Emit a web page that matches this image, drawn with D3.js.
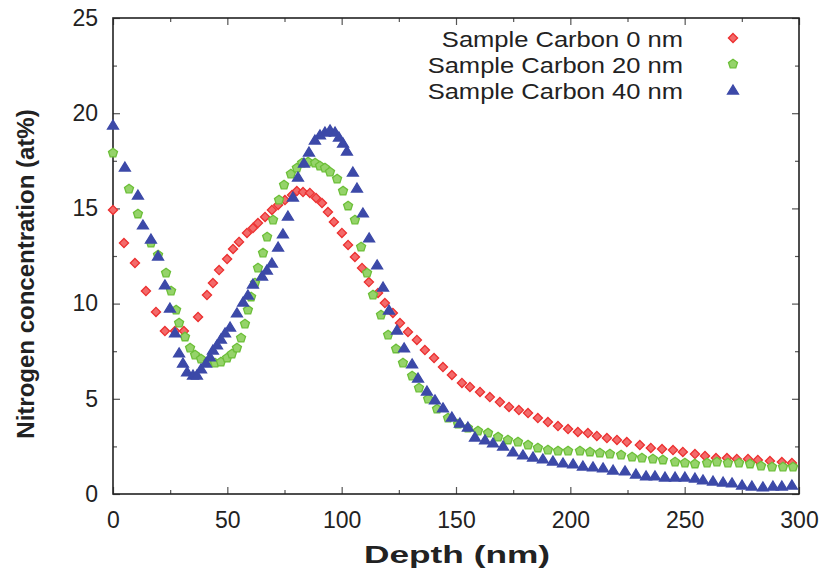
<!DOCTYPE html>
<html>
<head>
<meta charset="utf-8">
<script src="https://cdn.jsdelivr.net/npm/d3@7"></script>
<style>
body { margin: 0; background: #fff; }
text { font-family: "Liberation Sans", Arial, Helvetica, sans-serif; fill: #222; }
</style>
</head>
<body>
<div id="chart"></div>
<script>
// Data - depth (nm) and nitrogen concentration (at%)
const red_depth = [0,4.8,9.6,14.4,18.8,22.7,27.1,31.0,37.2,41.1,43.7,46.4,49.9,52.5,55.1,58.6,61.2,63.4,66.5,69.5,72.2,75.2,78.3,80.4,83.1,86.1,88.8,91.4,94.0,96.6,100.1,102.8,105.8,108.9,111.9,115.9,118.9,122.4,125.5,129.0,132.9,136.4,140.4,144.3,148.2,152.6,156.1,160.5,164.8,169.2,173.2,177.5,181.5,185.8,190.2,194.6,199.0,203.3,207.7,211.6,216.0,220.4,224.7,230.4,235.2,240.1,244.9,249.2,254.5,258.9,263.7,268.5,272.8,277.7,282.0,287.3,292.5,296.9];
const red_conc = [14.92,13.18,12.13,10.66,9.56,8.56,8.56,8.56,9.30,10.45,11.08,11.76,12.34,12.87,13.24,13.71,13.97,14.23,14.55,14.92,15.18,15.44,15.70,15.91,15.86,15.81,15.55,15.28,14.81,14.29,13.71,13.08,12.45,11.87,11.13,10.56,10.03,9.51,8.98,8.51,8.09,7.56,7.14,6.67,6.25,5.83,5.62,5.36,5.09,4.83,4.57,4.41,4.25,3.99,3.78,3.57,3.41,3.26,3.20,3.05,2.94,2.84,2.73,2.57,2.42,2.36,2.31,2.21,2.10,2.00,1.89,1.89,1.84,1.84,1.79,1.73,1.68,1.63];

const green_depth = [0,7.0,10.9,16.6,19.7,23.2,25.4,27.6,28.9,31.5,33.7,35.9,38.5,41.5,44.6,47.2,49.9,52.0,54.2,56.0,57.7,59.0,60.4,62.1,63.4,65.6,67.4,70.0,72.6,74.8,77.8,80.4,82.7,85.3,88.4,90.5,92.7,94.9,98.0,100.6,102.8,105.8,108.5,111.1,113.7,117.2,120.3,123.8,126.8,130.8,133.8,137.8,141.7,146.5,150.9,155.2,159.6,164.0,168.4,172.7,177.1,181.5,185.8,190.2,194.6,199.0,204.2,208.6,212.9,217.3,222.2,227.0,231.3,236.1,240.5,245.8,250.1,254.5,259.8,264.1,268.9,273.8,278.6,283.4,288.2,293.0,297.4];
const green_conc = [17.91,16.02,14.71,13.18,12.55,11.61,10.66,9.66,8.98,8.25,7.67,7.30,7.09,6.93,6.88,6.93,7.14,7.35,7.67,8.19,8.93,9.66,10.35,11.08,11.87,12.66,13.50,14.39,15.44,16.23,16.81,17.12,17.38,17.44,17.38,17.23,17.12,16.91,16.54,15.91,15.13,14.39,12.97,11.61,10.45,9.40,8.35,7.62,6.88,6.20,5.57,4.99,4.46,3.99,3.68,3.47,3.31,3.20,2.99,2.84,2.73,2.57,2.42,2.31,2.26,2.26,2.26,2.21,2.15,2.10,2.05,1.94,1.89,1.84,1.79,1.68,1.63,1.58,1.63,1.68,1.63,1.63,1.58,1.47,1.42,1.42,1.42];

const blue_depth = [0,5.2,10.9,13.1,16.6,19.7,22.7,24.9,27.1,28.9,30.6,32.4,35.0,36.7,38.5,40.7,42.4,43.7,45.5,47.2,49.0,51.2,54.2,56.9,59.0,61.2,65.2,67.3,69.5,72.2,74.3,76.5,78.7,80.9,83.5,85.7,88.3,90.5,92.7,94.9,97.1,98.8,100.6,102.3,104.9,106.7,109.3,112.0,115.5,118.1,120.7,124.2,127.3,130.8,133.4,137.3,140.8,144.3,148.2,151.7,155.2,158.3,162.7,166.2,170.6,174.9,179.3,183.7,188.0,192.4,196.8,201.2,205.5,209.9,214.3,218.7,223.9,228.7,233.1,237.0,241.4,245.8,250.1,254.5,258.0,262.4,266.8,270.7,275.1,279.4,284.2,288.6,292.5,296.9];
const blue_conc = [19.38,17.17,15.70,14.13,13.39,12.50,10.98,9.77,8.46,7.41,6.88,6.41,6.25,6.25,6.57,6.88,7.20,7.56,7.83,8.14,8.46,8.77,9.51,10.08,10.45,11.03,11.45,11.76,12.13,12.97,13.66,14.60,15.60,16.65,17.38,17.96,18.59,18.86,19.01,19.12,19.01,18.75,18.43,18.01,16.91,16.07,14.76,13.45,12.03,10.87,9.66,8.61,7.67,6.83,6.09,5.41,4.94,4.52,4.04,3.73,3.52,2.99,2.84,2.68,2.52,2.21,2.05,1.94,1.84,1.73,1.63,1.58,1.47,1.42,1.37,1.26,1.21,1.05,0.95,0.95,0.89,0.89,0.89,0.84,0.74,0.68,0.63,0.58,0.47,0.42,0.37,0.42,0.42,0.47];

const series_names = ['Sample Carbon 0 nm', 'Sample Carbon 20 nm', 'Sample Carbon 40 nm'];
const x_ticks = [0, 50, 100, 150, 200, 250, 300];
const y_ticks = [0, 5, 10, 15, 20, 25];

const margin = {top: 18, right: 28, bottom: 78, left: 113};
const width = 686;
const height = 476;

// custom marker shapes
const diamond = { draw(ctx, size) {
  const r = Math.sqrt(size) / 2;
  ctx.moveTo(0, -r); ctx.lineTo(r, 0); ctx.lineTo(0, r); ctx.lineTo(-r, 0); ctx.closePath();
}};
const pentagon = { draw(ctx, size) {
  const r = Math.sqrt(size) / 2;
  for (let k = 0; k < 5; k++) {
    const a = -Math.PI / 2 + k * 2 * Math.PI / 5;
    if (k === 0) ctx.moveTo(r * Math.cos(a), r * Math.sin(a));
    else ctx.lineTo(r * Math.cos(a), r * Math.sin(a));
  }
  ctx.closePath();
}};
const triangle = { draw(ctx, size) {
  const r = Math.sqrt(size) / 2;
  ctx.moveTo(0, -r); ctx.lineTo(1.1 * r, 0.8 * r); ctx.lineTo(-1.1 * r, 0.8 * r); ctx.closePath();
}};

const series = [
  {name: series_names[0], depth: red_depth, conc: red_conc, shape: diamond, size: 84, fill: '#f36a6a', stroke: '#ec3030'},
  {name: series_names[1], depth: green_depth, conc: green_conc, shape: pentagon, size: 90, fill: '#95d36a', stroke: '#6cbf38'},
  {name: series_names[2], depth: blue_depth, conc: blue_conc, shape: triangle, size: 100, fill: '#3c49a8', stroke: '#3c49a8'}
];

const svg = d3.select('#chart').append('svg')
  .attr('width', margin.left + width + margin.right)
  .attr('height', margin.top + height + margin.bottom);
const g = svg.append('g')
  .attr('transform', 'translate(' + margin.left + ',' + margin.top + ')');

const x = d3.scaleLinear().domain([0, 300]).range([0, width]);
const y = d3.scaleLinear().domain([0, 25]).range([height, 0]);

const x_minor = d3.range(25, 300, 50);
const y_minor = d3.range(2.5, 25, 5);

// inward ticks on all four sides
function tickAxis(axis, vals, len, fmt) {
  return axis.tickValues(vals).tickSize(-len).tickSizeOuter(0).tickFormat(fmt);
}
const axes = [
  {gen: d3.axisBottom(x), tr: 'translate(0,' + height + ')', major: x_ticks, minor: x_minor, labels: true},
  {gen: d3.axisTop(x), tr: 'translate(0,0)', major: x_ticks, minor: x_minor, labels: false},
  {gen: d3.axisLeft(y), tr: 'translate(0,0)', major: y_ticks, minor: y_minor, labels: true},
  {gen: d3.axisRight(y), tr: 'translate(' + width + ',0)', major: y_ticks, minor: y_minor, labels: false}
];
axes.forEach(a => {
  const ax = g.append('g').attr('transform', a.tr).attr('class', 'axis');
  ax.call(tickAxis(a.gen, a.major, 7, a.labels ? d3.format('d') : ''));
  ax.select('.domain').remove();
  ax.selectAll('line').attr('stroke', '#555').attr('stroke-width', 1.2);
  ax.selectAll('text').style('font-size', '23px').attr('fill', '#222');
  const axm = g.append('g').attr('transform', a.tr);
  axm.call(tickAxis(a.gen, a.minor, 4, ''));
  axm.select('.domain').remove();
  axm.selectAll('line').attr('stroke', '#555').attr('stroke-width', 1.2);
});
g.selectAll('.axis').filter((d, i) => i === 0).call(s => s.selectAll('text').attr('y', 18));
g.selectAll('.axis').filter((d, i) => i === 2).call(s => s.selectAll('text').attr('x', -15));

// frame
g.append('rect')
  .attr('width', width).attr('height', height)
  .attr('fill', 'none').attr('stroke', '#222').attr('stroke-width', 1.6);

// markers
series.forEach(s => {
  const sym = d3.symbol().type(s.shape).size(s.size);
  g.append('g').selectAll('path')
    .data(s.depth.map((d, i) => [d, s.conc[i]]))
    .join('path')
      .attr('transform', d => 'translate(' + x(d[0]) + ',' + y(d[1]) + ')')
      .attr('d', sym)
      .attr('fill', s.fill)
      .attr('stroke', s.stroke)
      .attr('stroke-width', 1.3);
});

// legend - text in the original is drawn a bit wide
const legend = svg.append('g').attr('transform', 'translate(683,38)');
series.forEach((s, i) => {
  const row = legend.append('g').attr('transform', 'translate(0,' + (i * 26) + ')');
  const t = row.append('text')
    .attr('x', 0).attr('y', 9)
    .attr('text-anchor', 'end')
    .style('font-size', '22px')
    .text(s.name);
  t.attr('textLength', t.node().getComputedTextLength() * 1.16)
    .attr('lengthAdjust', 'spacingAndGlyphs');
  row.append('path')
    .attr('transform', 'translate(50,0)')
    .attr('d', d3.symbol().type(s.shape).size(s.size)())
    .attr('fill', s.fill).attr('stroke', s.stroke).attr('stroke-width', 1.3);
});

// axis titles
svg.append('text')
  .attr('x', 457)
  .attr('y', 563)
  .attr('text-anchor', 'middle')
  .attr('textLength', 186)
  .attr('lengthAdjust', 'spacingAndGlyphs')
  .style('font-size', '23px').style('font-weight', 'bold')
  .text('Depth (nm)');
svg.append('text')
  .attr('transform', 'translate(34,274) rotate(-90)')
  .attr('text-anchor', 'middle')
  .style('font-size', '24px').style('font-weight', 'bold')
  .text('Nitrogen concentration (at%)');
</script>
</body>
</html>
